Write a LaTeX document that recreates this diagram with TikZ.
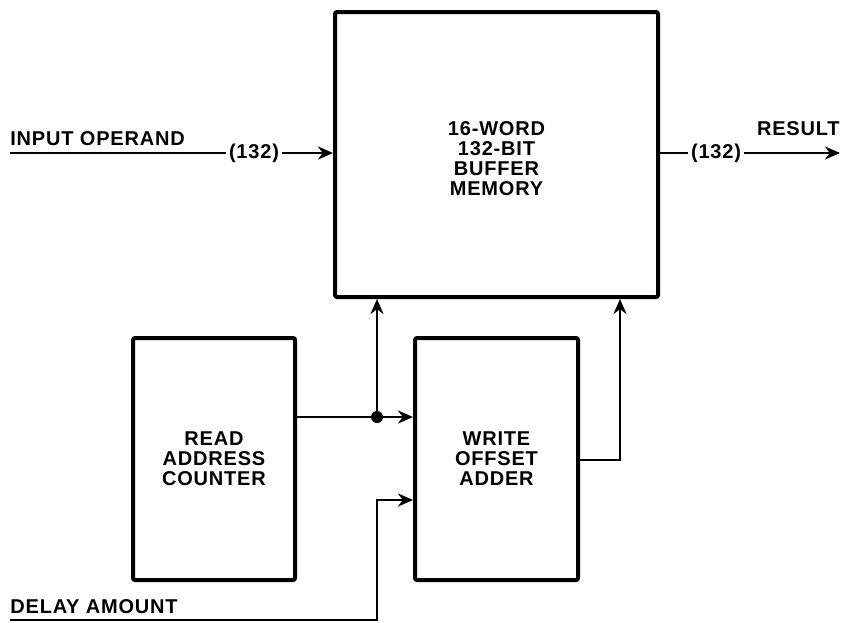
\documentclass[tikz,border=0pt]{standalone}
\usepackage{fontspec}
\setmainfont[LetterSpace=4]{Liberation Sans}
\usetikzlibrary{arrows.meta}

\begin{document}
\begin{tikzpicture}[x=0.5pt, y=-0.5pt, >={Stealth[length=7.5pt,width=6.5pt,inset=2.4pt]},
  every node/.style={font=\fontsize{10}{10}\selectfont\bfseries},
  blk/.style={draw, line width=2pt, rounded corners=1pt, align=center},
  wire/.style={line width=1.4pt},
  tag/.style={inner sep=1.5pt},
  lbl/.style={inner sep=0pt}]
\useasboundingbox (0,0) rectangle (846,622);
% blocks
\node[blk, minimum width=161.5pt, minimum height=142.5pt] (mem) at (496.5,154.5) {};
\node[align=center] (memtxt) at (496.5,159) {16-WORD\\132-BIT\\BUFFER\\MEMORY};
\node[blk, minimum width=81pt, minimum height=121pt] (rac) at (214,459) {READ\\ADDRESS\\COUNTER};
\node[blk, minimum width=81.5pt, minimum height=121pt] (woa) at (496.5,459) {WRITE\\OFFSET\\ADDER};

% input operand
\coordinate (inop) at (10,153);
\node[tag] (inw) at (254,153) {(132)};
\node[lbl, anchor=base west] (inlbl) at (10,145) {INPUT OPERAND};
\draw[wire] (inop) -- (inw);
\draw[wire,->] (inw) -- (inw -| mem.west);

% result
\coordinate (res) at (840,153);
\node[tag] (outw) at (716,153) {(132)};
\node[lbl, anchor=base east] (reslbl) at (840,135) {RESULT};
\draw[wire] (outw -| mem.east) -- (outw);
\draw[wire,->] (outw) -- (res);

% read address
\node[circle, fill, inner sep=0pt, minimum size=6pt] (junc) at (377,417) {};
\draw[wire] (rac.east |- junc) -- (junc);
\draw[wire,->] (junc) -- (junc -| woa.west);
\draw[wire,->] (junc) -- (junc |- mem.south);

% write address
\coordinate (wbend) at (620,460);
\draw[wire,->] (woa.east |- wbend) -- (wbend) -- (wbend |- mem.south);

% delay amount
\coordinate (dly) at (10,620);
\coordinate (dbend) at (377,620);
\coordinate (dup) at (377,500);
\node[lbl, anchor=base west] (dlylbl) at (10,613) {DELAY AMOUNT};
\draw[wire,->] (dly) -- (dbend) -- (dup) -- (dup -| woa.west);
\end{tikzpicture}
\end{document}
